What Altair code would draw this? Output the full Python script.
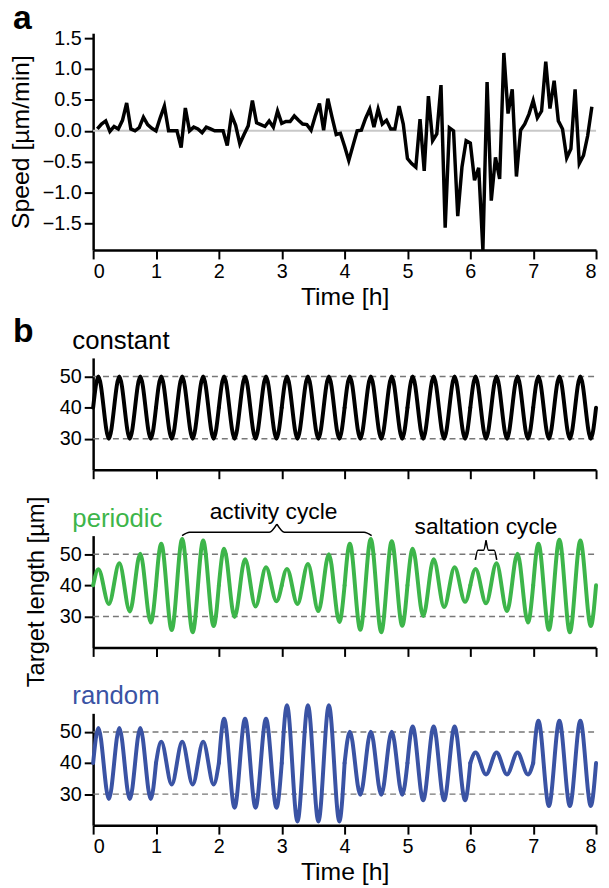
import altair as alt
import pandas as pd

FONT = "Liberation Sans"
W = 508

# ---------------- panel a : speed ----------------
speed_step_h = 4 / 60  # 4 min sampling
speed_values = [
    0.03, 0.11, 0.16, -0.01, 0.07, 0.03, 0.17, 0.45, 0.03, 0.0,
    0.05, 0.22, 0.10, 0.04, 0.0, 0.21, 0.40, 0.0, 0.0, 0.0,
    -0.27, 0.37, 0.0, 0.06, 0.03, -0.03, 0.06, 0.03, 0.0, 0.0,
    0.0, -0.24, 0.26, 0.09, -0.21, -0.06, 0.08, 0.49, 0.13, 0.10,
    0.07, 0.16, 0.06, 0.32, 0.12, 0.15, 0.15, 0.24, 0.17, 0.11,
    0.10, 0.01, 0.24, 0.44, 0.01, 0.52, 0.22, -0.06, -0.04, -0.25,
    -0.48, -0.24, 0.0, 0.01, 0.20, 0.35, 0.06, 0.35, 0.11, 0.17,
    0.03, 0.03, 0.40, 0.11, -0.45, -0.53, -0.59, 0.19, -0.65, 0.56,
    -0.16, -0.05, 0.74, -1.57, 0.05, 0.0, -1.38, -0.59, -0.16, -0.20,
    -0.80, -0.60, -1.93, 0.79, -1.13, -0.43, -0.78, 1.26, 0.28, 0.67,
    -0.74, 0.01, 0.11, 0.27, 0.49, 0.21, 0.32, 1.12, 0.36, 0.81,
    0.16, 0.03, -0.44, -0.29, 0.67, -0.53, -0.40, -0.08, 0.39,
]
speed_time = [(i + 1) * speed_step_h for i in range(len(speed_values))]

time_ticks = [0, 1, 2, 3, 4, 5, 6, 7, 8]
speed_ticks = [-1.5, -1.0, -0.5, 0.0, 0.5, 1.0, 1.5]
length_ticks = [30, 40, 50]
ref_levels = [30, 50]
zero_level = [0.0]

# ---------------- panel b : target length ----------------
cycle_h = 1 / 3
mean_length = 40
constant_peaks = [50] * 24
constant_troughs = [30] * 24
periodic_peaks = [45.2, 47.1, 50.2, 53.4, 54.9, 54.4, 51.8, 48.4, 45.8, 45.3, 46.9, 50.0,
                  53.4, 54.9, 54.2, 51.8, 48.4, 45.8, 45.3, 47.1, 50.2, 53.4, 54.7, 54.4]
periodic_troughs = [34.0, 31.6, 28.0, 25.6, 24.9, 26.9, 29.8, 33.2, 34.9, 34.0, 31.7, 28.2,
                    25.7, 24.9, 27.0, 30.1, 33.0, 34.7, 34.2, 31.7, 28.0, 25.7, 24.9, 26.9]
random_peaks = [51.3, 51.3, 51.3, 46.9, 46.9, 46.9, 54.3, 54.3, 54.3, 58.6, 58.6, 58.6,
                50.1, 50.1, 50.1, 51.8, 51.8, 51.8, 43.4, 43.4, 43.4, 53.6, 53.6, 53.6]
random_troughs = [28.4, 28.4, 28.4, 33.1, 33.1, 33.1, 25.6, 25.6, 25.6, 21.2, 21.2, 21.2,
                  29.8, 29.8, 29.8, 28.0, 28.0, 28.0, 36.3, 36.3, 36.3, 26.2, 26.2, 26.2]

# annotations (periodic panel, data coordinates)
ann_text = ["activity cycle", "saltation cycle"]
ann_t = [2.87, 6.25]
ann_v = [61.3, 56.6]
brace_t0 = [1.415, 6.08]
brace_t1 = [4.43, 6.42]
brace_end = [56.0, 48.2]
brace_mid = [57.1, 51.3]
brace_tip = [59.7, 54.5]
brace_curl = [0.12, 0.04]

GREEN = "#3db54a"
BLUE = "#3a53a4"


def signal_df(peaks, troughs):
    rows = []
    for c in range(len(peaks)):
        seg = c // 3
        t0 = c * cycle_h
        if c % 3 == 0:
            rows.append(dict(t=t0, v=mean_length, seg=seg))
        rows.append(dict(t=t0 + cycle_h / 4, v=peaks[c], seg=seg))
        rows.append(dict(t=t0 + 3 * cycle_h / 4, v=troughs[c], seg=seg))
        if c % 3 == 2:
            rows.append(dict(t=t0 + cycle_h, v=mean_length, seg=seg))
    return pd.DataFrame(rows)


def brace_df():
    rows = []
    for i in range(len(brace_t0)):
        a, b = brace_t0[i], brace_t1[i]
        m = (a + b) / 2
        w = brace_curl[i]
        left = [(a, brace_end[i]), (a + w, brace_mid[i]), (m - w, brace_mid[i]), (m, brace_tip[i])]
        right = [(m, brace_tip[i]), (m + w, brace_mid[i]), (b - w, brace_mid[i]), (b, brace_end[i])]
        for t, v in left:
            rows.append(dict(t=t, v=v, part=f"{i}L"))
        for t, v in right:
            rows.append(dict(t=t, v=v, part=f"{i}R"))
    return pd.DataFrame(rows)


def text_label(text, x, y, size, color="black", weight="normal"):
    return alt.Chart(pd.DataFrame({"label": [text]})).mark_text(
        font=FONT, fontSize=size, fontWeight=weight, align="left",
        baseline="alphabetic", color=color
    ).encode(text="label:N", x=alt.value(x), y=alt.value(y))


xscale = alt.Scale(domain=[0, 8], nice=False, zero=False)

# ---- panel a
ya_scale = alt.Scale(domain=[-1.93, 1.58], nice=False, zero=False)
xa_axis = alt.Axis(values=time_ticks, format="d", title="Time [h]", titlePadding=3)
ya_axis = alt.Axis(values=speed_ticks, format=".1f", title="Speed [µm/min]", titlePadding=9)

speed_df = pd.DataFrame({"t": speed_time, "v": speed_values})
zero_df = pd.DataFrame({"v": zero_level})

zero_rule = alt.Chart(zero_df).mark_rule(color="#c8c8c8", strokeWidth=2).encode(
    y=alt.Y("v:Q", scale=ya_scale, axis=ya_axis),
    x=alt.datum(0, scale=xscale),
    x2=alt.datum(8),
)
speed_line = alt.Chart(speed_df).mark_line(color="black", strokeWidth=3.5, strokeJoin="miter").encode(
    x=alt.X("t:Q", scale=xscale, axis=xa_axis),
    y=alt.Y("v:Q", scale=ya_scale, axis=ya_axis),
)

panel_a = alt.layer(
    zero_rule, speed_line, text_label("a", -81, -4, 34, weight="bold")
).properties(width=W, height=219)

# ---- panel b
yb_scale = alt.Scale(domain=[20, 56], nice=False, zero=False)


def sub_panel(peaks, troughs, color, label, bottom, ytitle, extra=None, letter=None):
    x_axis = alt.Axis(values=time_ticks, format="d", labels=bottom,
                      title="Time [h]" if bottom else None, titlePadding=3)
    y_axis = alt.Axis(values=length_ticks, format="d", title=ytitle, titlePadding=11,
                      titleFontSize=24)
    ref_df = pd.DataFrame({"v": ref_levels})
    rules = alt.Chart(ref_df).mark_rule(color="#777777", strokeWidth=1.5, strokeDash=[6, 4]).encode(
        y=alt.Y("v:Q", scale=yb_scale, axis=y_axis),
        x=alt.datum(0, scale=xscale, axis=x_axis),
        x2=alt.datum(8),
    )
    line = alt.Chart(signal_df(peaks, troughs)).mark_line(
        color=color, strokeWidth=4, interpolate="monotone", strokeCap="round", strokeJoin="round"
    ).encode(
        x=alt.X("t:Q", scale=xscale, axis=x_axis),
        y=alt.Y("v:Q", scale=yb_scale, axis=y_axis),
        detail="seg:N",
    )
    layers = [rules, line]
    if extra is not None:
        layers += extra(x_axis, y_axis)
    layers.append(text_label(label, -21, -9, 26, color=color))
    if letter is not None:
        layers.append(text_label(letter, -81, -16, 34, weight="bold"))
    return alt.layer(*layers).properties(width=W, height=113)


def periodic_extra(x_axis, y_axis):
    braces = alt.Chart(brace_df()).mark_line(
        color="black", strokeWidth=1.6, interpolate="monotone"
    ).encode(
        x=alt.X("t:Q", scale=xscale, axis=x_axis),
        y=alt.Y("v:Q", scale=yb_scale, axis=y_axis),
        detail="part:N",
    )
    ann = alt.Chart(pd.DataFrame({"t": ann_t, "v": ann_v, "label": ann_text})).mark_text(
        font=FONT, fontSize=23, align="center", baseline="alphabetic", color="black"
    ).encode(
        x=alt.X("t:Q", scale=xscale, axis=x_axis),
        y=alt.Y("v:Q", scale=yb_scale, axis=y_axis),
        text="label:N",
    )
    return [braces, ann]


constant = sub_panel(constant_peaks, constant_troughs, "black", "constant", False, None, letter="b")
periodic = sub_panel(periodic_peaks, periodic_troughs, GREEN, "periodic", False,
                     "Target length [µm]", extra=periodic_extra)
random_p = sub_panel(random_peaks, random_troughs, BLUE, "random", True, None)

panel_b = alt.vconcat(constant, periodic, random_p, spacing=66.5, bounds="flush")

chart = alt.vconcat(panel_a, panel_b, spacing=109, bounds="flush").properties(
    padding={"left": 0, "top": -10, "right": 2, "bottom": 2}
).configure_view(stroke=None).configure_axis(
    grid=False,
    domainColor="black", domainWidth=2.5,
    tickColor="black", tickWidth=2, tickSize=9,
    labelFont=FONT, labelFontSize=20, labelColor="black", labelPadding=3,
    titleFont=FONT, titleFontSize=25, titleFontWeight="normal", titleColor="black",
)

chart.save("out.html", embed_options={"renderer": "svg", "actions": False})
